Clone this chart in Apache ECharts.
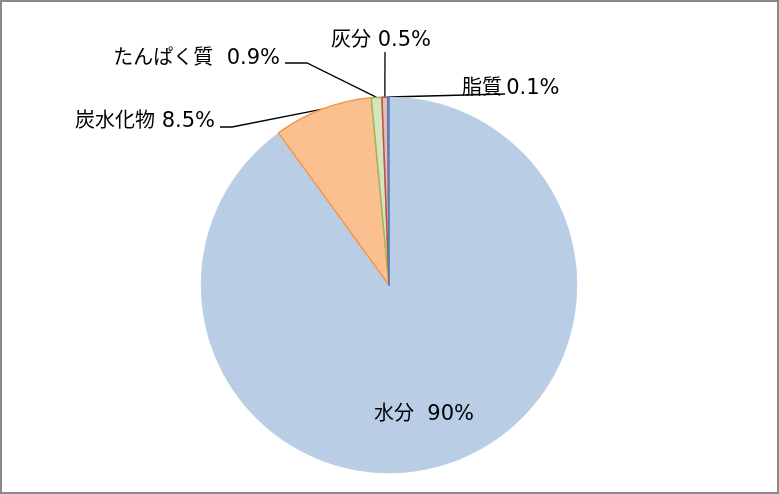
<!DOCTYPE html>
<html>
<head>
<meta charset="utf-8">
<script src="https://cdn.jsdelivr.net/npm/echarts@6/dist/echarts.min.js"></script>
<style>
  html, body { margin: 0; padding: 0; background: #fff; }
  #chart { width: 779px; height: 494px; box-sizing: border-box; border: 2px solid #8a8a8a; background: #fff; }
</style>
</head>
<body>
<div id="chart"></div>
<script>
// ---- data ----
const categories = ['水分', '炭水化物', 'たんぱく質', '灰分', '脂質'];
const values = [90, 8.5, 0.9, 0.5, 0.1];
const valueLabels = ['90%', '8.5%', '0.9%', '0.5%', '0.1%'];

// ---- styles ----
const fillColors = ['#B9CDE5', '#FAC090', '#D7E4BD', '#E6B9B8', '#B9CDE5'];
const borderColors = ['#B9CDE5', '#F79646', '#9BBB59', '#C0504D', '#4F81BD'];
const separators = ['  ', ' ', '  ', ' ', '\u2009'];

// label placement (page coordinates): anchor x, middle y, alignment, leader-line bend/end points
const labelPlace = [
  { x: 424, y: 412, align: 'center', line: null },
  { x: 215, y: 119, align: 'right', line: [[232, 127], [220, 127]] },
  { x: 280, y: 56, align: 'right', line: [[307, 63], [285, 63]] },
  { x: 381, y: 38, align: 'center', line: [[385, 52]] },
  { x: 462, y: 86, align: 'left', line: [[505, 94]] }
];

const JP_FONT = '"Noto Sans CJK JP", sans-serif';
const NUM_FONT = '"DejaVu Sans", sans-serif';

const data = categories.map((name, i) => ({
  name: name,
  value: values[i],
  itemStyle: { color: fillColors[i], borderColor: borderColors[i], borderWidth: i === 0 ? 0.5 : 1.5 },
  label: { position: i === 0 ? 'inside' : 'outside' },
  labelLine: { show: i !== 0 }
}));

const chart = echarts.init(document.getElementById('chart'), null, { renderer: 'canvas' });
chart.setOption({
  backgroundColor: '#ffffff',
  animation: false,
  series: [{
    type: 'pie',
    center: [387, 283],
    radius: 188,
    startAngle: 90,
    clockwise: true,
    avoidLabelOverlap: false,
    data: data,
    label: {
      show: true,
      color: '#000',
      fontSize: 20,
      fontFamily: JP_FONT,
      formatter: p => '{t|' + p.name + '}{n|' + separators[p.dataIndex] + valueLabels[p.dataIndex] + '}',
      rich: {
        t: { fontFamily: JP_FONT, fontSize: 20, color: '#000', lineHeight: 26, verticalAlign: 'middle' },
        n: { fontFamily: NUM_FONT, fontSize: 21, color: '#000', lineHeight: 22, verticalAlign: 'bottom' }
      }
    },
    labelLine: {
      show: true,
      length: 20,
      length2: 20,
      smooth: false,
      lineStyle: { color: '#000', width: 1.3 }
    },
    labelLayout: function (p) {
      const pl = labelPlace[p.dataIndex];
      // container has a 2px border; placements are measured in page space
      const res = { x: pl.x - 2, y: pl.y - 2, align: pl.align, verticalAlign: 'middle', hideOverlap: false, moveOverlap: false };
      if (pl.line && p.labelLinePoints) {
        const edge = p.labelLinePoints[0];
        res.labelLinePoints = [edge].concat(pl.line.map(q => [q[0] - 2, q[1] - 2]));
      }
      return res;
    }
  }]
});
</script>
</body>
</html>
